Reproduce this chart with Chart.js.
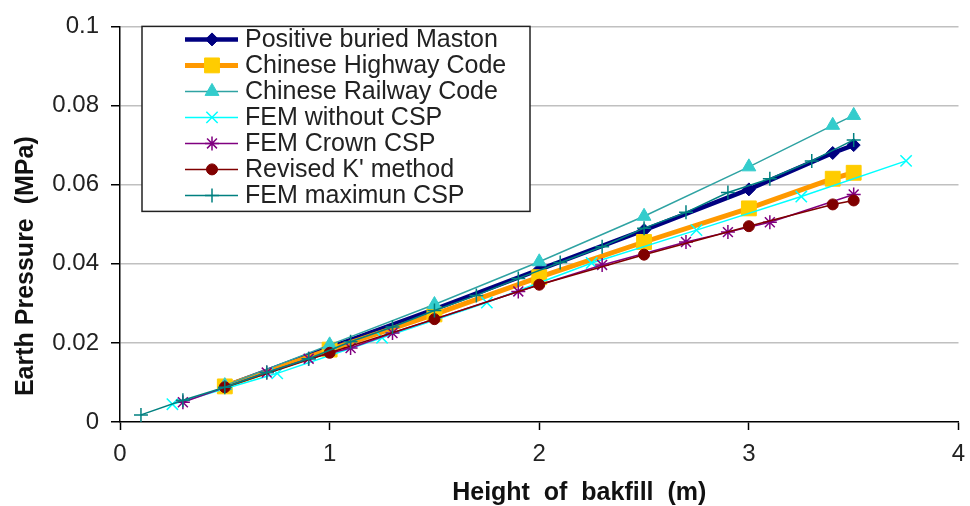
<!DOCTYPE html>
<html>
<head>
<meta charset="utf-8">
<script src="https://cdn.jsdelivr.net/npm/chart.js@4.4.1/dist/chart.umd.min.js"></script>
<style>
    body { margin: 0; background: #fff; }
    canvas { display: block; }
</style>
</head>
<body>
<canvas id="pressureChart" width="970" height="506"></canvas>
<script>
// values
const seriesNames = ["Positive buried Maston", "Chinese Highway Code", "Chinese Railway Code",
    "FEM without CSP", "FEM Crown CSP", "Revised K' method", "FEM maximun CSP"];

const codeHeights = [0.5, 1, 1.5, 2, 2.5, 3, 3.4, 3.5];
const mastonValues = [0.009, 0.0188, 0.0285, 0.0385, 0.0485, 0.0588, 0.068, 0.070];
const highwayValues = [0.009, 0.0183, 0.0272, 0.0366, 0.0455, 0.054, 0.0615, 0.063];
const railwayValues = [0.0092, 0.0195, 0.0297, 0.0405, 0.052, 0.0645, 0.075, 0.0775];
const revisedKValues = [0.0088, 0.0175, 0.026, 0.0347, 0.0423, 0.0495, 0.055, 0.056];

const noCspHeights = [0.25, 0.75, 1.25, 1.75, 2.25, 2.75, 3.25, 3.75];
const noCspValues = [0.0045, 0.0123, 0.0213, 0.0302, 0.0402, 0.0485, 0.057, 0.066];

const crownHeights = [0.3, 0.7, 0.9, 1.1, 1.3, 1.9, 2.3, 2.7, 2.9, 3.1, 3.5];
const crownValues = [0.005, 0.0125, 0.016, 0.0187, 0.0225, 0.033, 0.0397, 0.0455, 0.048, 0.0505, 0.0575];

const maxHeights = [0.1, 0.3, 0.5, 0.7, 0.9, 1.1, 1.3, 1.5, 1.7, 1.9, 2.1, 2.3, 2.5, 2.7, 2.9, 3.1, 3.3, 3.5];
const maxValues = [0.0018, 0.0055, 0.0088, 0.0125, 0.016, 0.0203, 0.024, 0.0282, 0.032, 0.0363, 0.0403, 0.0443, 0.049, 0.053, 0.058, 0.0615, 0.066, 0.0713];

const xTickLabels = ["0", "1", "2", "3", "4"];
const yTickLabels = ["0", "0.02", "0.04", "0.06", "0.08", "0.1"];

const FONT = "'Liberation Sans', Arial, sans-serif";

const toPoints = (xs, ys) => xs.map((x, i) => ({ x: x, y: ys[i] }));

const styles = [
    { line: '#000080', fill: '#000080', width: 4.5, style: 'rectRot', radius: 6.5, pw: 1 },
    { line: '#FF9900', fill: '#FFCC00', width: 5, style: 'rect', radius: 10.5, pw: 1 },
    { line: '#2FA3A3', fill: '#33CCCC', width: 1.5, style: 'triangle', radius: 8, pw: 1 },
    { line: '#00FFFF', fill: '#00FFFF', width: 1.5, style: 'crossRot', radius: 8, pw: 1.5 },
    { line: '#800080', fill: '#800080', width: 1.5, style: 'star', radius: 7, pw: 1.5 },
    { line: '#800000', fill: '#800000', width: 1.5, style: 'circle', radius: 5.5, pw: 1 },
    { line: '#008080', fill: '#008080', width: 1.5, style: 'cross', radius: 7, pw: 1.5 }
];

const seriesPoints = [
    toPoints(codeHeights, mastonValues),
    toPoints(codeHeights, highwayValues),
    toPoints(codeHeights, railwayValues),
    toPoints(noCspHeights, noCspValues),
    toPoints(crownHeights, crownValues),
    toPoints(codeHeights, revisedKValues),
    toPoints(maxHeights, maxValues)
];

const datasets = seriesPoints.map((pts, i) => ({
    label: seriesNames[i],
    data: pts,
    borderColor: styles[i].line,
    backgroundColor: styles[i].fill,
    borderWidth: styles[i].width,
    pointStyle: styles[i].style,
    pointRadius: styles[i].radius,
    pointBackgroundColor: styles[i].fill,
    pointBorderColor: styles[i].fill,
    pointBorderWidth: styles[i].pw,
    tension: 0,
    order: seriesNames.length - i
}));

// legend box and axis titles drawn by hand
const boxLegend = {
    id: 'boxLegend',
    afterDraw(chart) {
        const ctx = chart.ctx;
        const area = chart.chartArea;
        const left = area.left + 22, top = area.top;
        ctx.save();
        ctx.fillStyle = '#fff';
        ctx.fillRect(left, top, 388, 185);
        ctx.strokeStyle = '#222';
        ctx.lineWidth = 1.5;
        ctx.strokeRect(left, top, 388, 185);
        ctx.font = '25px ' + FONT;
        ctx.textBaseline = 'middle';
        seriesNames.forEach((name, i) => {
            const y = top + 13 + 26 * i;
            const s = styles[i];
            ctx.strokeStyle = s.line;
            ctx.lineWidth = s.width;
            ctx.beginPath();
            ctx.moveTo(left + 43, y);
            ctx.lineTo(left + 96, y);
            ctx.stroke();
            ctx.fillStyle = s.fill;
            ctx.strokeStyle = s.fill;
            ctx.lineWidth = s.pw;
            Chart.helpers.drawPoint(ctx, { pointStyle: s.style, radius: s.radius, rotation: 0, borderWidth: s.pw }, left + 70, y);
            ctx.fillStyle = '#222';
            ctx.fillText(name, left + 103, y + 1);
        });

        ctx.fillStyle = '#111';
        ctx.font = 'bold 25px ' + FONT;
        ctx.textAlign = 'center';
        ctx.fillText('Height  of  bakfill  (m)', (area.left + area.right) / 2 + 40, 493);
        ctx.translate(26, (area.top + area.bottom) / 2 + 42);
        ctx.rotate(-Math.PI / 2);
        ctx.fillText('Earth Pressure  (MPa)', 0, 0);
        ctx.restore();
    }
};

new Chart(document.getElementById('pressureChart').getContext('2d'), {
    type: 'line',
    data: { datasets },
    plugins: [boxLegend],
    options: {
        responsive: false,
        animation: false,
        layout: { padding: { top: 23, right: 0, left: 0, bottom: 0 } },
        plugins: { legend: { display: false }, tooltip: { enabled: false } },
        scales: {
            x: {
                type: 'linear',
                min: 0,
                max: 4,
                afterFit: scale => { scale.height = 84; scale.paddingRight = 10; },
                ticks: {
                    stepSize: 1,
                    padding: 10,
                    color: '#222',
                    font: { family: FONT, size: 24 },
                    callback: (v, i) => xTickLabels[i]
                },
                grid: { drawOnChartArea: false, tickColor: '#000', tickLength: 8, tickWidth: 1.5 },
                border: { color: '#000', width: 1.5 }
            },
            y: {
                min: 0,
                max: 0.1,
                afterFit: scale => { scale.width = 120; },
                ticks: {
                    stepSize: 0.02,
                    padding: 12,
                    color: '#222',
                    font: { family: FONT, size: 24 },
                    callback: (v, i) => yTickLabels[i]
                },
                grid: {
                    color: ctx => ctx.index === 0 ? 'rgba(0,0,0,0)' : '#c0c0c0',
                    lineWidth: 1.5,
                    tickColor: '#000',
                    tickLength: 9,
                    tickWidth: 1.5
                },
                border: { color: '#000', width: 1.5 }
            }
        }
    }
});
</script>
</body>
</html>
